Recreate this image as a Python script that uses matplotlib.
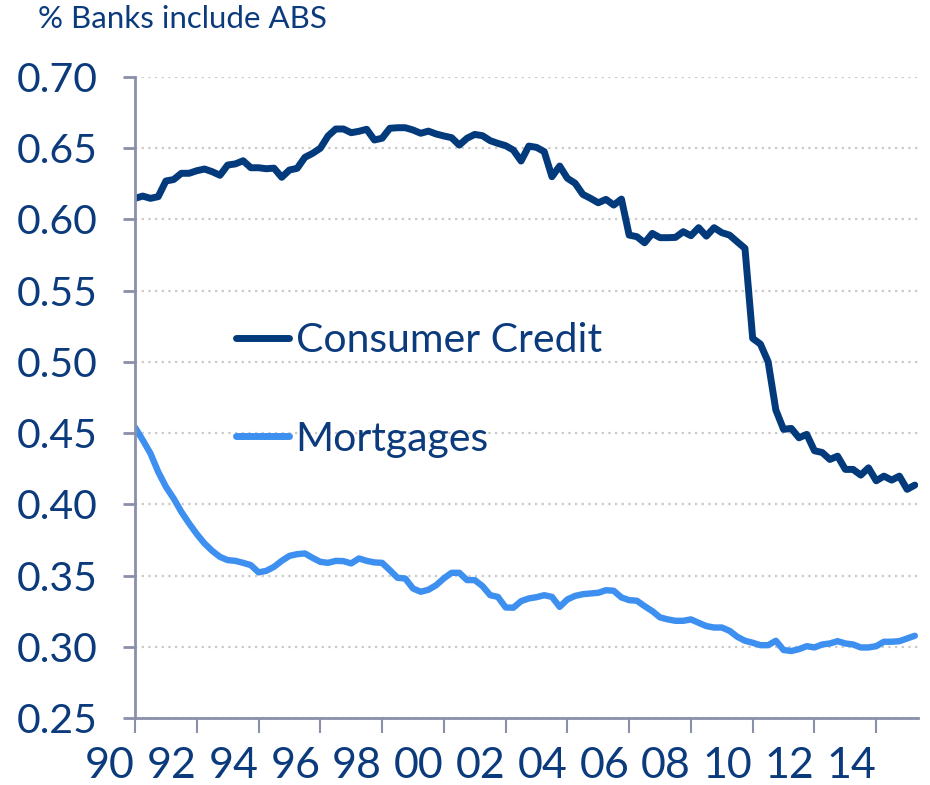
import numpy as np
import matplotlib
matplotlib.use("Agg")
import matplotlib.pyplot as plt
from matplotlib import font_manager

# quarterly data, 1990Q1 - 2015Q2
start_year = 1990
consumer_credit = [
    0.6148, 0.6164, 0.6148, 0.6160, 0.6270, 0.6280, 0.6324, 0.6324, 0.6342, 0.6354,
    0.6335, 0.6310, 0.6382, 0.6390, 0.6412, 0.6363, 0.6363, 0.6356, 0.6360, 0.6296,
    0.6347, 0.6359, 0.6436, 0.6464, 0.6500, 0.6586, 0.6635, 0.6635, 0.6609, 0.6619,
    0.6633, 0.6558, 0.6570, 0.6640, 0.6644, 0.6644, 0.6628, 0.6605, 0.6620, 0.6600,
    0.6586, 0.6574, 0.6522, 0.6570, 0.6597, 0.6588, 0.6553, 0.6534, 0.6518, 0.6487,
    0.6410, 0.6515, 0.6506, 0.6476, 0.6300, 0.6375, 0.6289, 0.6254, 0.6176, 0.6148,
    0.6117, 0.6141, 0.6101, 0.6143, 0.5890, 0.5879, 0.5836, 0.5902, 0.5872, 0.5872,
    0.5874, 0.5914, 0.5886, 0.5942, 0.5883, 0.5942, 0.5907, 0.5890, 0.5843, 0.5797,
    0.5165, 0.5125, 0.5001, 0.4662, 0.4526, 0.4533, 0.4467, 0.4491, 0.4376, 0.4364,
    0.4315, 0.4338, 0.4245, 0.4245, 0.4205, 0.4256, 0.4165, 0.4198, 0.4170, 0.4198,
    0.4105, 0.4135,
]
mortgages = [
    0.4540, 0.4451, 0.4357, 0.4228, 0.4123, 0.4041, 0.3947, 0.3866, 0.3791, 0.3725,
    0.3673, 0.3631, 0.3608, 0.3603, 0.3589, 0.3573, 0.3522, 0.3533, 0.3561, 0.3603,
    0.3638, 0.3650, 0.3655, 0.3624, 0.3596, 0.3589, 0.3603, 0.3601, 0.3585, 0.3620,
    0.3603, 0.3592, 0.3589, 0.3538, 0.3484, 0.3479, 0.3409, 0.3386, 0.3400, 0.3432,
    0.3480, 0.3519, 0.3519, 0.3468, 0.3468, 0.3426, 0.3362, 0.3350, 0.3276, 0.3274,
    0.3320, 0.3339, 0.3348, 0.3362, 0.3350, 0.3280, 0.3332, 0.3357, 0.3369, 0.3374,
    0.3379, 0.3397, 0.3393, 0.3346, 0.3327, 0.3323, 0.3285, 0.3250, 0.3206, 0.3192,
    0.3182, 0.3182, 0.3192, 0.3168, 0.3145, 0.3135, 0.3135, 0.3112, 0.3070, 0.3042,
    0.3028, 0.3011, 0.3011, 0.3042, 0.2977, 0.2970, 0.2983, 0.3004, 0.2995, 0.3016,
    0.3023, 0.3039, 0.3023, 0.3016, 0.2995, 0.2995, 0.3004, 0.3035, 0.3035, 0.3039,
    0.3058, 0.3077,
]
series_labels = ["Consumer Credit", "Mortgages"]
y_ticks = [0.25, 0.30, 0.35, 0.40, 0.45, 0.50, 0.55, 0.60, 0.65, 0.70]
x_ticks = list(range(1990, 2015, 2))
x_ticklabels = ["%02d" % (y % 100) for y in x_ticks]
y_title = "% Banks include ABS"

navy = "#0B3B7C"
dark_line = "#023A7C"
light_line = "#3D8FF0"
spine_col = "#8A8FAA"

names = {f.name for f in font_manager.fontManager.ttflist}
main_font = "Lato" if "Lato" in names else "DejaVu Sans"
narrow_font = "Liberation Sans Narrow" if "Liberation Sans Narrow" in names else main_font
plt.rcParams["font.family"] = main_font

x = start_year + 0.25 * np.arange(len(consumer_credit))

fig = plt.figure(figsize=(9.3, 7.85), dpi=100)
ax = fig.add_axes([0.1452, 0.0854, 0.8418, 0.8165])

ax.plot(x, consumer_credit, color=dark_line, lw=5, label=series_labels[0],
        solid_joinstyle="round", solid_capstyle="round")
ax.plot(x, mortgages, color=light_line, lw=4.6, label=series_labels[1],
        solid_joinstyle="round", solid_capstyle="round")

ax.set_xlim(1990, 2015.35)
ax.set_ylim(0.25, 0.70)
ax.set_yticks(y_ticks)
ax.set_yticklabels(["%.2f" % v for v in y_ticks], fontsize=29.5, color=navy)
ax.set_xticks(x_ticks)
ax.set_xticklabels(x_ticklabels, fontsize=31, color=navy, family=narrow_font, ha="right")

for s in ["top", "right"]:
    ax.spines[s].set_visible(False)
for s in ["left", "bottom"]:
    ax.spines[s].set_color(spine_col)
    ax.spines[s].set_linewidth(2)

ax.tick_params(axis="y", length=9, width=2, color=spine_col, pad=18)
ax.tick_params(axis="x", length=11, width=1.5, color=spine_col, pad=10)

ax.yaxis.grid(True, linestyle=(0, (1, 2)), color="#C9C9C9", lw=1.6)
ax.set_axisbelow(True)

leg = ax.legend(loc="upper left", bbox_to_anchor=(0.082, 0.675), frameon=False,
                fontsize=29.5, labelcolor=navy, handlelength=1.3, handletextpad=0.15,
                labelspacing=1.5)
for h in leg.get_lines():
    h.set_linewidth(5)
    h.set_solid_capstyle("round")

fig.text(38 / 930, 1 - 5 / 785, y_title, fontsize=22.5, color=navy, va="top", ha="left")

fig.savefig("out.png", dpi=100)
